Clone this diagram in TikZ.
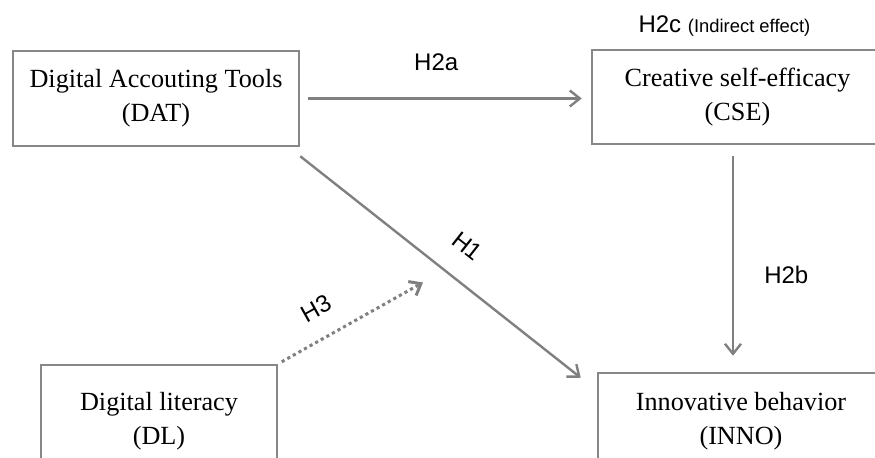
\documentclass[tikz,border=0pt]{standalone}
\usepackage{fontspec}
\setmainfont{Liberation Serif}
\setsansfont{Liberation Sans}
\usetikzlibrary{arrows.meta}
\definecolor{boxgray}{RGB}{135,135,135}
\definecolor{arrowgray}{RGB}{128,128,128}
\tikzset{
	varbox/.style={draw=boxgray,line width=1.25pt,align=center,inner sep=0pt,font=\fontsize{13.1}{17}\selectfont},
	hyparrow/.style={draw=arrowgray,line width=1.2pt,->},
	hyplabel/.style={font=\sffamily\fontsize{12}{14}\selectfont}
}
\begin{document}
\begin{tikzpicture}[x=0.5pt,y=-0.5pt,>={Straight Barb[length=5pt,width=8pt]}]
			\clip (0,0) rectangle (875,458);
			\node[varbox,minimum width=143pt,minimum height=47.5pt] (DAT) at (156,98.5) {Digital Accouting Tools\\(DAT)};
			\node[varbox,minimum width=145.5pt,minimum height=47pt] (CSE) at (737.5,97) {Creative self-efficacy\\(CSE)};
			\node[varbox,minimum width=118pt,minimum height=56pt] (DL) at (159,421) {Digital literacy\\(DL)};
			\node[varbox,minimum width=143pt,minimum height=48pt] (INNO) at (741,421) {Innovative behavior\\(INNO)};
			\coordinate (mod) at (423,282.5);
			\node[hyplabel,anchor=base west] (h2c) at (631.5,33) {H2c {\fontsize{9.2}{10}\selectfont (Indirect effect)}};
			\draw[hyparrow,shorten <=4pt,shorten >=4.5pt] (DAT.east) -- (DAT.east -| CSE.west) node[hyplabel,pos=0.468,above=9.9pt]{H2a};
			\draw[hyparrow,shorten <=5.5pt,shorten >=8pt] ([xshift=-2.25pt]CSE.south) -- ([xshift=-2.25pt]CSE.south |- INNO.north) node[hyplabel,pos=0.572,right=11.7pt]{H2b};
			\draw[hyparrow] ([yshift=-4.5pt]DAT.south east) -- ([xshift=-8pt,yshift=-3pt]INNO.north west) node[hyplabel,sloped,pos=0.523,above=8.4pt]{H1};
			\draw[hyparrow,line width=1.5pt,dash pattern=on 1.6pt off 1.6pt,shorten <=2pt] (DL.north east) -- (mod) node[hyplabel,sloped,pos=0.36,above=6.5pt]{H3};
		\end{tikzpicture}
\end{document}
